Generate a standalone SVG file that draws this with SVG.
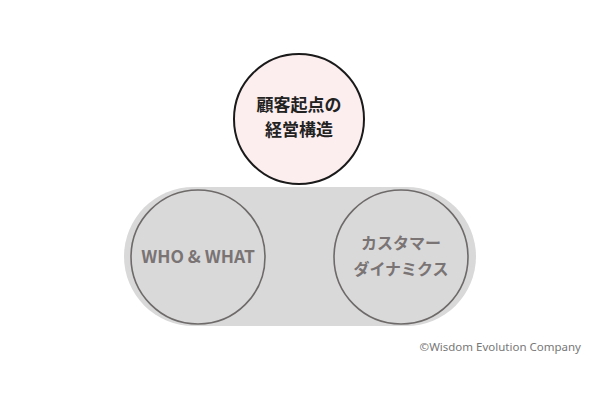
<svg xmlns="http://www.w3.org/2000/svg" width="600" height="400" viewBox="0 0 600 400">
<style>
.t{font-family:"Noto Sans CJK JP","Noto Sans",sans-serif;font-weight:bold;text-anchor:middle;}
.g{fill:#7a7474;font-size:16px;}
.sub{fill:none;stroke:#6e6a6a;stroke-width:1.6;}
</style>
<rect width="600" height="400" fill="#ffffff"/>
<g id="base">
<rect x="124" y="187" width="352" height="139" rx="69.5" fill="#d9d9da"/>
</g>
<g id="connectors"/>
<g id="who-what">
<circle class="sub" cx="198" cy="257" r="67"/>
<text class="t g" x="198" y="263" style="font-size:17.5px">WHO &amp; WHAT</text>
</g>
<g id="customer-dynamics">
<circle class="sub" cx="401" cy="257" r="67"/>
<text class="t g" x="401" y="249">カスタマー</text>
<text class="t g" x="401" y="275">ダイナミクス</text>
</g>
<g id="core">
<circle cx="299" cy="119" r="65" fill="#fcedee" stroke="#1a1a1a" stroke-width="2"/>
<text class="t" x="299" y="111" font-size="17" fill="#222">顧客起点の</text>
<text class="t" x="299" y="136" font-size="17" fill="#222">経営構造</text>
</g>
<text x="581" y="351" font-family="'Noto Sans',sans-serif" font-size="11.5" fill="#777" text-anchor="end">©Wisdom Evolution Company</text>
</svg>
